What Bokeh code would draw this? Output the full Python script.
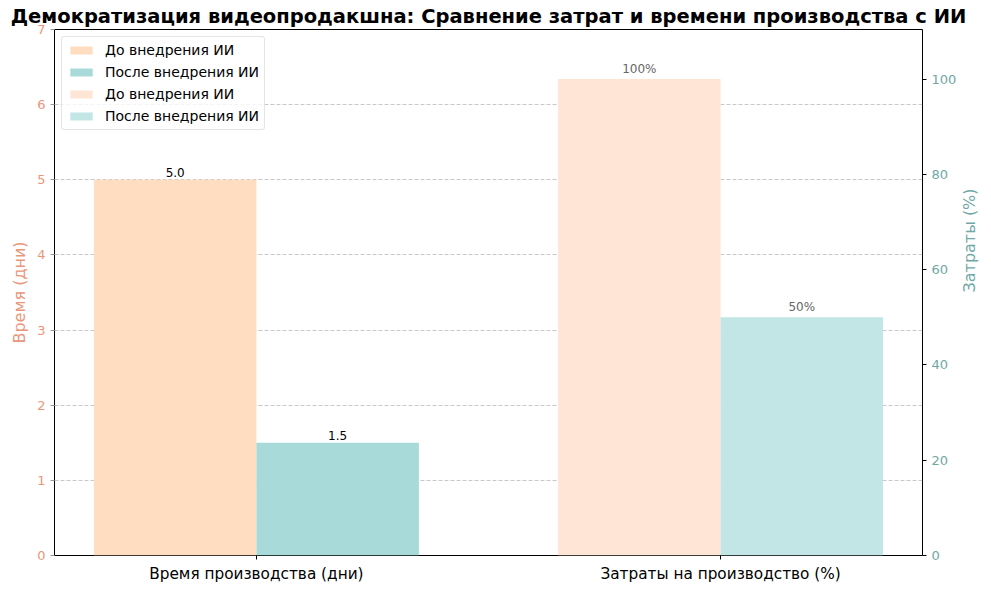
import math
from bokeh.plotting import figure
from bokeh.models import Range1d, LinearAxis, FixedTicker, Legend, LegendItem, ColumnDataSource
from bokeh.embed import file_html
from bokeh.resources import INLINE

title = "Демократизация видеопродакшна: Сравнение затрат и времени производства с ИИ"
categories = ["Время производства (дни)", "Затраты на производство (%)"]
series = ["До внедрения ИИ", "После внедрения ИИ"]
time_values = [5.0, 1.5]
cost_values = [100, 50]
time_labels = ["5.0", "1.5"]
cost_labels = ["100%", "50%"]

FONT = "DejaVu Sans"
SALMON = "#E9967A"
TEAL = "#6FA8A5"
bw = 0.35

p = figure(width=991, height=585, x_range=Range1d(-0.435, 1.435), y_range=Range1d(0, 7),
           output_backend="svg", toolbar_location=None,
           min_border_left=54, min_border_right=40, min_border_top=16, min_border_bottom=26)
p.extra_y_ranges = {"cost": Range1d(0, 110.4)}

p.title.text = title
p.title.text_font = FONT
p.title.text_font_size = "19.5px"
p.title.text_font_style = "bold"
p.title.text_color = "black"
p.title.align = "center"
p.title.standoff = 4

r1 = p.vbar(x=[0 - bw / 2], top=[time_values[0]], width=bw, fill_color="#FFDDC1", line_color=None)
r2 = p.vbar(x=[0 + bw / 2], top=[time_values[1]], width=bw, fill_color="#A8DADA", line_color=None)
r3 = p.vbar(x=[1 - bw / 2], top=[cost_values[0]], width=bw, fill_color="#FFE5D6", line_color=None, y_range_name="cost")
r4 = p.vbar(x=[1 + bw / 2], top=[cost_values[1]], width=bw, fill_color="#C2E5E5", line_color=None, y_range_name="cost")

src_t = ColumnDataSource(dict(x=[-bw / 2, bw / 2], y=time_values, t=time_labels))
p.text(x="x", y="y", text="t", source=src_t, text_align="center", text_baseline="bottom",
       y_offset=-3, text_font_size="12px", text_color="black", text_font={"value": FONT})
src_c = ColumnDataSource(dict(x=[1 - bw / 2, 1 + bw / 2], y=cost_values, t=cost_labels))
p.text(x="x", y="y", text="t", source=src_c, text_align="center", text_baseline="bottom",
       y_offset=-3, text_font_size="12px", text_color="#666666", text_font={"value": FONT},
       y_range_name="cost")

# axes
p.xaxis.ticker = FixedTicker(ticks=[0, 1])
p.xaxis.major_label_overrides = {0: categories[0], 1: categories[1]}
p.xaxis.major_label_text_font = FONT
p.xaxis.major_label_text_font_size = "15.3px"
p.xaxis.major_label_text_color = "black"
p.xaxis.minor_tick_line_color = None
p.xaxis.axis_line_color = None
p.xaxis.major_tick_out = 4
p.xaxis.major_tick_in = 0

p.yaxis.ticker = FixedTicker(ticks=list(range(0, 8)))
p.yaxis.axis_label = "Время (дни)"
p.yaxis.axis_label_text_color = SALMON
p.yaxis.axis_label_text_font = FONT
p.yaxis.axis_label_text_font_style = "normal"
p.yaxis.axis_label_text_font_size = "16px"
p.yaxis.major_label_text_color = SALMON
p.yaxis.major_label_text_font = FONT
p.yaxis.major_label_text_font_size = "13px"
p.yaxis.minor_tick_line_color = None
p.yaxis.axis_line_color = None
p.yaxis.major_tick_out = 4
p.yaxis.major_tick_in = 0
p.yaxis.major_tick_line_color = "#999999"

ax2 = LinearAxis(y_range_name="cost", ticker=FixedTicker(ticks=[0, 20, 40, 60, 80, 100]))
ax2.axis_label = "Затраты (%)"
ax2.axis_label_orientation = math.pi / 2
ax2.axis_label_standoff = 10
ax2.axis_label_text_color = TEAL
ax2.axis_label_text_font = FONT
ax2.axis_label_text_font_style = "normal"
ax2.axis_label_text_font_size = "16px"
ax2.major_label_text_color = TEAL
ax2.major_label_text_font = FONT
ax2.major_label_text_font_size = "13px"
ax2.minor_tick_line_color = None
ax2.axis_line_color = None
ax2.major_tick_out = 4
ax2.major_tick_in = 0
ax2.major_tick_line_color = "black"
p.add_layout(ax2, "right")

p.xgrid.grid_line_color = None
p.ygrid.grid_line_color = "#b0b0b0"
p.ygrid.grid_line_dash = "4 2"
p.ygrid.grid_line_alpha = 0.7

p.outline_line_color = "black"
p.outline_line_alpha = 1
p.outline_line_width = 1

legend = Legend(items=[LegendItem(label=series[0], renderers=[r1]),
                       LegendItem(label=series[1], renderers=[r2]),
                       LegendItem(label=series[0], renderers=[r3]),
                       LegendItem(label=series[1], renderers=[r4])],
                location="top_left")
legend.label_text_font = FONT
legend.label_text_font_size = "14px"
legend.label_text_color = "black"
legend.glyph_width = 28
legend.glyph_height = 10
legend.label_height = 14
legend.label_standoff = 10
legend.spacing = 6
legend.padding = 5
legend.margin = 7
legend.border_line_color = "#cccccc"
legend.border_radius = 3
legend.background_fill_alpha = 0.8
p.add_layout(legend)

open("out.html", "w").write(file_html(p, INLINE))
